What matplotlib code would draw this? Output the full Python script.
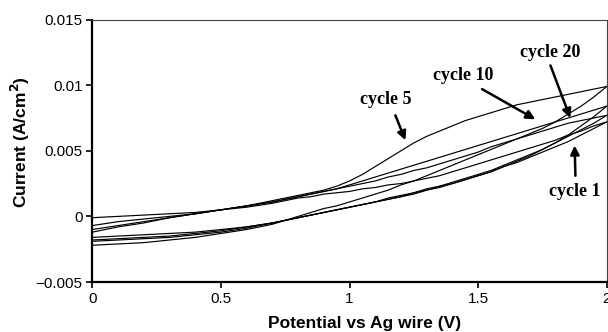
import matplotlib
matplotlib.use("Agg")
import matplotlib.pyplot as plt

# Potential grid (V)
potential = [0.0, 0.1, 0.2, 0.3, 0.4, 0.5, 0.6, 0.7, 0.8,
             0.85, 0.9, 0.95, 1.0, 1.05, 1.1, 1.15, 1.2, 1.25, 1.3, 1.35, 1.4,
             1.45, 1.5, 1.55, 1.6, 1.65, 1.7, 1.75, 1.8, 1.85, 1.9, 1.95, 2.0]

# Reverse (upper) branches, current in A/cm^2
cycle5_rev = [-0.0012, -0.0008, -0.0005, -0.0001, 0.0002, 0.0005, 0.0008, 0.0012, 0.0016,
              0.0018, 0.0020, 0.0023, 0.0027, 0.0032, 0.0038, 0.0044, 0.0050, 0.0056, 0.0061, 0.0065, 0.0069,
              0.0073, 0.0076, 0.0079, 0.0082, 0.0085, 0.0087, 0.0089, 0.0091, 0.0093, 0.0095, 0.0097, 0.0099]
cycle10_rev = [-0.0010, -0.0007, -0.0004, -0.0001, 0.0002, 0.0005, 0.0008, 0.0011, 0.0015,
               0.0017, 0.0019, 0.0021, 0.0024, 0.0027, 0.0030, 0.0033, 0.0036, 0.0039, 0.0042, 0.0045, 0.0048,
               0.0051, 0.0054, 0.0057, 0.0060, 0.0063, 0.0066, 0.0069, 0.0072, 0.0075, 0.0078, 0.0081, 0.0084]
cycle20_rev = [-0.0007, -0.0004, -0.0002, 0.0000, 0.0002, 0.0005, 0.0008, 0.0011, 0.0015,
               0.0017, 0.0019, 0.0021, 0.0023, 0.0025, 0.0027, 0.0030, 0.0032, 0.0035, 0.0037, 0.0040, 0.0043,
               0.0046, 0.0049, 0.0053, 0.0056, 0.0059, 0.0062, 0.0065, 0.0068, 0.0071, 0.0073, 0.0075, 0.0077]
cycle1_rev = [-0.0001, 0.0000, 0.0001, 0.0002, 0.0003, 0.0005, 0.0007, 0.0010, 0.0014,
              0.0015, 0.0017, 0.0018, 0.0019, 0.0021, 0.0022, 0.0024, 0.0025, 0.0027, 0.0029, 0.0031, 0.0034,
              0.0037, 0.0040, 0.0043, 0.0046, 0.0049, 0.0052, 0.0055, 0.0058, 0.0062, 0.0065, 0.0069, 0.0072]

# Forward (lower) branches
cycle5_fwd = [-0.0022, -0.0021, -0.0020, -0.0018, -0.0016, -0.0013, -0.0010, -0.0006, 0.0000,
              0.0003, 0.0006, 0.0008, 0.0011, 0.0014, 0.0017, 0.0020, 0.0024, 0.0027, 0.0031, 0.0035, 0.0039,
              0.0043, 0.0047, 0.0051, 0.0055, 0.0059, 0.0063, 0.0067, 0.0072, 0.0078, 0.0084, 0.0091, 0.0099]
cycle10_fwd = [-0.0019, -0.0018, -0.0017, -0.0016, -0.0014, -0.0012, -0.0009, -0.0005, -0.0001,
               0.0001, 0.0003, 0.0005, 0.0007, 0.0009, 0.0011, 0.0013, 0.0015, 0.0018, 0.0020, 0.0023, 0.0025,
               0.0028, 0.0031, 0.0034, 0.0038, 0.0042, 0.0046, 0.0051, 0.0056, 0.0062, 0.0069, 0.0076, 0.0084]
cycle20_fwd = [-0.0018, -0.0017, -0.0016, -0.0015, -0.0013, -0.0011, -0.0008, -0.0005, -0.0001,
               0.0001, 0.0003, 0.0005, 0.0007, 0.0009, 0.0011, 0.0014, 0.0016, 0.0018, 0.0021, 0.0023, 0.0026,
               0.0029, 0.0032, 0.0035, 0.0039, 0.0043, 0.0047, 0.0051, 0.0056, 0.0061, 0.0066, 0.0071, 0.0077]
cycle1_fwd = [-0.0016, -0.0015, -0.0014, -0.0013, -0.0012, -0.0010, -0.0008, -0.0005, -0.0001,
              0.0001, 0.0003, 0.0005, 0.0007, 0.0009, 0.0011, 0.0013, 0.0015, 0.0017, 0.0020, 0.0022, 0.0025,
              0.0028, 0.0031, 0.0034, 0.0038, 0.0041, 0.0045, 0.0049, 0.0053, 0.0057, 0.0062, 0.0067, 0.0072]

x_ticks = [0, 0.5, 1, 1.5, 2]
x_tick_labels = ["0", "0.5", "1", "1.5", "2"]
y_ticks = [-0.005, 0, 0.005, 0.01, 0.015]
y_tick_labels = ["\u22120.005", "0", "0.005", "0.01", "0.015"]

# annotations: label, text position, arrow start, arrow tip
annot_labels = ["cycle 5", "cycle 10", "cycle 20", "cycle 1"]
annot_text_xy = [(1.14, 0.0089), (1.44, 0.0107), (1.78, 0.0125), (1.875, 0.0019)]
annot_arrow_from = [(1.178, 0.0077), (1.515, 0.0097), (1.781, 0.0115), (1.878, 0.0031)]
annot_arrow_to = [(1.217, 0.0058), (1.722, 0.0074), (1.858, 0.0075), (1.875, 0.0054)]

fig = plt.figure(figsize=(6.08, 3.32), dpi=100)
ax = fig.add_axes([0.152, 0.1506, 0.846, 0.7906])

for series in [cycle5_rev, cycle10_rev, cycle20_rev, cycle1_rev,
               cycle5_fwd, cycle10_fwd, cycle20_fwd, cycle1_fwd]:
    ax.plot(potential, series, color="black", lw=0.85)

ax.set_xlim(0, 2)
ax.set_ylim(-0.005, 0.015)
ax.set_xticks(x_ticks)
ax.set_xticklabels(x_tick_labels)
ax.set_yticks(y_ticks)
ax.set_yticklabels(y_tick_labels)

for lab in ax.get_xticklabels() + ax.get_yticklabels():
    lab.set_fontfamily("Liberation Sans")
    lab.set_fontsize(11)

ax.tick_params(direction="out", length=4, width=1.2, top=False, right=False, pad=3)
ax.spines["left"].set_linewidth(1.6)
ax.spines["bottom"].set_linewidth(1.6)
ax.spines["top"].set_linewidth(0.8)
ax.spines["right"].set_linewidth(0.8)
ax.spines["top"].set_color("#444444")
ax.spines["right"].set_color("#444444")

ax.set_xlabel("Potential vs Ag wire (V)", fontfamily="Liberation Sans",
              fontweight="bold", fontsize=12.5)
ax.set_ylabel("Current (A/cm$^\\mathbf{2}$)", fontfamily="Liberation Sans",
              fontweight="bold", fontsize=12.5)
ax.xaxis.set_label_coords(0.529, -0.128)
ax.yaxis.set_label_coords(-0.118, 0.535)

for lab, txy, a0, a1 in zip(annot_labels, annot_text_xy, annot_arrow_from, annot_arrow_to):
    ax.text(txy[0], txy[1], lab, fontfamily="Liberation Serif", fontweight="bold",
            fontsize=13, ha="center", va="center")
    ax.annotate("", xy=a1, xytext=a0,
                arrowprops=dict(arrowstyle="-|>", color="black", lw=1.8,
                                mutation_scale=13, shrinkA=0, shrinkB=0))

fig.savefig("out.png", dpi=100)
